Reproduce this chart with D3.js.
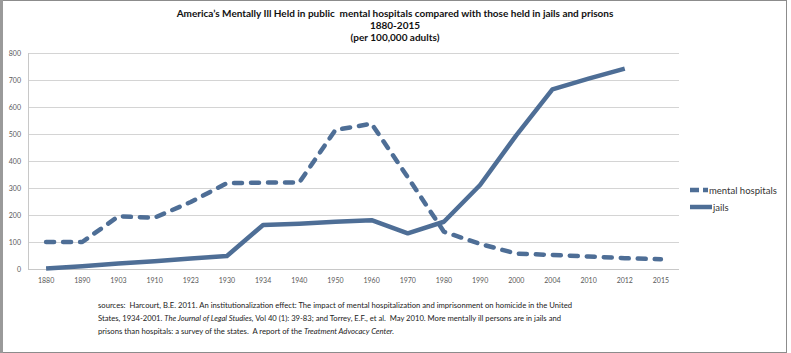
<!DOCTYPE html>
<html>
<head>
<meta charset="utf-8">
<script src="https://cdn.jsdelivr.net/npm/d3@7"></script>
<style>
  html, body { margin: 0; padding: 0; background: #fff; }
  svg { display: block; }
  text { font-family: Lato, "Open Sans", sans-serif; white-space: pre; }
</style>
</head>
<body>
<svg id="chart" width="791" height="353"></svg>
<script>
const categories = ["1880","1890","1903","1910","1923","1930","1934","1940","1950","1960","1970","1980","1990","2000","2004","2010","2012","2015"];
const mentalHospitals = [100,100,195,190,248,318,320,320,515,538,340,138,93,57,52,46,40,36];
const jails = [2,10,20,29,39,48,163,168,175,181,132,175,311,495,665,705,742,null];
const yTicks = [0,100,200,300,400,500,600,700,800];
const titleLines = ["America\u2019s Mentally Ill Held in public  mental hospitals compared with those held in jails and prisons", "1880-2015", "(per 100,000 adults)"];
const seriesNames = ["mental hospitals", "jails"];

const svg = d3.select("#chart");
const W = 791, H = 353;
const color = "#4E6E96";

// outer border
svg.append("rect").attr("x", 0.5).attr("y", 0.5).attr("width", 786).attr("height", H - 1)
  .attr("fill", "#fff").attr("stroke", "#8c8c8c").attr("stroke-width", 1);
svg.append("rect").attr("x", 0).attr("y", 0).attr("width", 3).attr("height", H).attr("fill", "#9a9a9a");

const x = d3.scalePoint().domain(categories).range([28, 679]).padding(0.5);
const y = d3.scaleLinear().domain([0, 800]).range([269, 53]);

// gridlines
svg.append("g").selectAll("line").data(yTicks.slice(1)).join("line")
  .attr("x1", 28).attr("x2", 679)
  .attr("y1", d => y(d) + 0.5).attr("y2", d => y(d) + 0.5)
  .attr("stroke", "#d4d4d4").attr("stroke-width", 1);

// axes lines
svg.append("line").attr("x1", 28.5).attr("x2", 28.5).attr("y1", y(800)).attr("y2", y(0))
  .attr("stroke", "#c8c8c8");
svg.append("line").attr("x1", 28).attr("x2", 679).attr("y1", y(0) + 0.5).attr("y2", y(0) + 0.5)
  .attr("stroke", "#c8c8c8");

// y labels
svg.append("g").selectAll("text").data(yTicks).join("text")
  .attr("x", 21).attr("y", d => y(d) + 2.5)
  .attr("text-anchor", "end").attr("font-size", 7).attr("fill", "#595959")
  .text(d => d);

// x labels
svg.append("g").selectAll("text").data(categories).join("text")
  .attr("x", d => x(d)).attr("y", 283)
  .attr("text-anchor", "middle").attr("font-size", 7).attr("fill", "#595959")
  .text(d => d);

// lines
const lineGen = d3.line()
  .defined(d => d.v != null)
  .x(d => x(d.c)).y(d => y(d.v));

svg.append("path")
  .datum(categories.map((c, i) => ({c, v: mentalHospitals[i]})))
  .attr("d", lineGen).attr("fill", "none").attr("stroke", color)
  .attr("stroke-width", 4.5).attr("stroke-dasharray", "8,9")
  .attr("stroke-linecap", "round").attr("stroke-linejoin", "round");

svg.append("path")
  .datum(categories.map((c, i) => ({c, v: jails[i]})))
  .attr("d", lineGen).attr("fill", "none").attr("stroke", color)
  .attr("stroke-width", 4.5).attr("stroke-linejoin", "round");

// title
svg.append("g").selectAll("text").data(titleLines).join("text")
  .attr("x", 395).attr("y", (d, i) => 17 + i * 12)
  .attr("text-anchor", "middle").attr("font-size", 10).attr("font-weight", "bold")
  .attr("fill", "#111")
  .text(d => d);

// legend
const lg = svg.append("g");
lg.append("line").attr("x1", 690).attr("x2", 708).attr("y1", 190).attr("y2", 190)
  .attr("stroke", color).attr("stroke-width", 4.5).attr("stroke-dasharray", "9,4");
lg.append("line").attr("x1", 690).attr("x2", 712).attr("y1", 207).attr("y2", 207)
  .attr("stroke", color).attr("stroke-width", 4.5);
lg.append("text").attr("x", 709).attr("y", 193.5).attr("font-size", 9.5).attr("fill", "#333").text(seriesNames[0]);
lg.append("text").attr("x", 713).attr("y", 210.5).attr("font-size", 9.5).attr("fill", "#333").text(seriesNames[1]);

// footnote
const fn = svg.append("g").attr("font-size", 7.6).attr("fill", "#222");
const l1 = fn.append("text").attr("x", 98).attr("y", 308)
  .attr("textLength", 474).attr("lengthAdjust", "spacingAndGlyphs");
l1.text("sources:  Harcourt, B.E. 2011. An institutionalization effect: The impact of mental hospitalization and imprisonment on homicide in the United");
const l2 = fn.append("text").attr("x", 98).attr("y", 321)
  .attr("textLength", 463).attr("lengthAdjust", "spacingAndGlyphs");
l2.append("tspan").text("States, 1934-2001. ");
l2.append("tspan").attr("font-style", "italic").text("The Journal of Legal Studies,");
l2.append("tspan").text(" Vol 40 (1): 39-83; and Torrey, E.F., et al.  May 2010. More mentally ill persons are in jails and");
const l3 = fn.append("text").attr("x", 98).attr("y", 334)
  .attr("textLength", 296).attr("lengthAdjust", "spacingAndGlyphs");
l3.append("tspan").text("prisons than hospitals: a survey of the states.  A report of the ");
l3.append("tspan").attr("font-style", "italic").text("Treatment Advocacy Center.");
</script>
</body>
</html>
